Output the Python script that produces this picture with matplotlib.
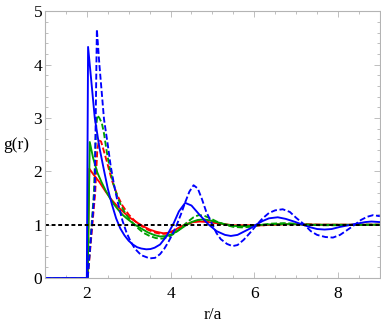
import matplotlib
matplotlib.use("Agg")
import matplotlib.pyplot as plt
from matplotlib.ticker import MultipleLocator

# Blue solid
r_bs = [1.0, 2.0, 2.03, 2.1, 2.19, 2.3, 2.41, 2.5, 2.6, 2.7, 2.8, 2.9, 3.0, 3.1, 3.2, 3.3, 3.42, 3.52,
        3.62, 3.75, 3.9, 4.07, 4.2, 4.35, 4.5, 4.7, 4.9, 5.1, 5.3, 5.44, 5.6, 5.75, 5.9, 6.04, 6.2, 6.35,
        6.56, 6.75, 6.95, 7.16, 7.35, 7.5, 7.68, 7.85, 8.05, 8.25, 8.45, 8.65, 8.8, 9.0]
g_bs = [0.0, 0.0, 4.33, 3.75, 3.0, 2.45, 2.02, 1.68, 1.38, 1.12, 0.93, 0.80, 0.70, 0.63, 0.58, 0.555, 0.54, 0.545,
        0.57, 0.63, 0.78, 1.02, 1.25, 1.41, 1.36, 1.18, 1.01, 0.88, 0.81, 0.79, 0.81, 0.87, 0.93, 1.0, 1.07, 1.12,
        1.14, 1.11, 1.06, 1.0, 0.95, 0.92, 0.91, 0.92, 0.96, 0.99, 1.02, 1.05, 1.06, 1.05]

# Blue dashed
r_bd = [1.0, 2.02, 2.19, 2.24, 2.3, 2.41, 2.5, 2.57, 2.65, 2.73, 2.85, 2.95, 3.05, 3.15, 3.3, 3.5, 3.63,
        3.75, 3.85, 3.95, 4.05, 4.15, 4.25, 4.35, 4.45, 4.55, 4.65, 4.75, 4.85, 5.0, 5.1, 5.2, 5.35, 5.48,
        5.6, 5.75, 5.9, 6.06, 6.2, 6.35, 6.5, 6.68, 6.85, 7.0, 7.2, 7.35, 7.5, 7.7, 7.88, 8.05, 8.2, 8.4,
        8.55, 8.7, 8.84, 9.0]
g_bd = [0.0, 0.0, 1.65, 4.66, 4.0, 2.98, 2.5, 2.1, 1.75, 1.45, 1.08, 0.85, 0.68, 0.55, 0.43, 0.37, 0.38,
        0.45, 0.55, 0.68, 0.83, 1.0, 1.2, 1.42, 1.62, 1.74, 1.68, 1.48, 1.25, 1.0, 0.84, 0.73, 0.64, 0.60,
        0.62, 0.72, 0.85, 1.0, 1.12, 1.22, 1.27, 1.29, 1.24, 1.13, 1.0, 0.88, 0.81, 0.77, 0.76, 0.81, 0.89, 1.0,
        1.09, 1.15, 1.18, 1.16]

# Green solid
r_gs = [1.0, 2.02, 2.07, 2.15, 2.25, 2.35, 2.45, 2.55, 2.65, 2.75, 2.85, 2.95, 3.05, 3.15, 3.3, 3.45,
        3.6, 3.75, 3.9, 4.05, 4.2, 4.35, 4.5, 4.65, 4.8, 4.95, 5.1, 5.3, 5.5, 5.7, 5.9, 6.2, 6.5, 6.9,
        7.4, 8.0, 9.0]
g_gs = [0.0, 0.0, 2.55, 2.25, 1.98, 1.8, 1.64, 1.5, 1.38, 1.28, 1.19, 1.12, 1.06, 1.0, 0.93, 0.86,
        0.81, 0.78, 0.79, 0.83, 0.9, 0.98, 1.05, 1.09, 1.10, 1.08, 1.05, 1.01, 0.98, 0.97, 0.98, 1.0, 1.01, 1.01,
        1.0, 1.0, 1.0]

# Green dashed
r_gd = [1.0, 2.02, 2.17, 2.22, 2.25, 2.3, 2.36, 2.41, 2.48, 2.55, 2.63, 2.73, 2.83, 2.93, 3.05, 3.2,
        3.35, 3.5, 3.65, 3.8, 3.95, 4.1, 4.25, 4.4, 4.55, 4.67, 4.8, 4.95, 5.1, 5.3, 5.5, 5.7, 5.9, 6.1,
        6.4, 6.7, 7.0, 7.3, 7.6, 8.0, 8.5, 9.0]
g_gd = [0.0, 0.0, 1.6, 2.8, 3.05, 3.0, 2.9, 2.71, 2.35, 2.05, 1.78, 1.52, 1.34, 1.2, 1.07, 0.95,
        0.85, 0.79, 0.75, 0.74, 0.77, 0.84, 0.94, 1.05, 1.14, 1.18, 1.17, 1.12, 1.06, 1.0, 0.96, 0.95, 0.96, 0.99,
        1.02, 1.03, 1.02, 1.0, 0.99, 0.99, 1.0, 1.0]

# Red solid
r_rs = [1.0, 2.02, 2.06, 2.15, 2.3, 2.45, 2.6, 2.75, 2.9, 3.05, 3.2, 3.35, 3.5, 3.65, 3.83, 3.95, 4.1,
        4.25, 4.4, 4.55, 4.7, 4.9, 5.1, 5.3, 5.5, 5.8, 6.2, 6.6, 7.0, 7.5, 9.0]
g_rs = [0.0, 0.0, 2.05, 1.95, 1.8, 1.62, 1.46, 1.33, 1.22, 1.12, 1.04, 0.97, 0.91, 0.87, 0.84, 0.85, 0.9,
        0.97, 1.02, 1.05, 1.06, 1.05, 1.03, 1.01, 0.99, 0.99, 0.99, 1.01, 1.01, 1.0, 1.0]

# Red dashed
r_rd = [1.0, 2.02, 2.2, 2.25, 2.29, 2.34, 2.4, 2.49, 2.6, 2.73, 2.85, 3.0, 3.15, 3.3, 3.45, 3.6, 3.75,
        3.9, 4.05, 4.2, 4.35, 4.5, 4.65, 4.8, 5.0, 5.2, 5.4, 5.7, 6.0, 6.4, 6.8, 7.2, 7.6, 9.0]
g_rd = [0.0, 0.0, 1.6, 2.4, 2.58, 2.56, 2.4, 2.15, 1.83, 1.55, 1.36, 1.19, 1.07, 0.98, 0.91, 0.86, 0.83,
        0.83, 0.87, 0.93, 0.99, 1.04, 1.07, 1.07, 1.05, 1.02, 0.99, 0.98, 0.98, 1.0, 1.01, 1.01, 1.0, 1.0]

ref_x = [1.0, 9.0]
ref_y = [1.0, 1.0]

xticks = [2, 4, 6, 8]
yticks = [0, 1, 2, 3, 4, 5]

plt.rcParams['font.family'] = ['Liberation Serif', 'DejaVu Serif']

fig = plt.figure(figsize=(3.81, 3.28), dpi=100)
ax = fig.add_axes([0.118, 0.152, 0.879, 0.814])

blue = '#0000ff'
green = '#00a000'
red = '#ff0000'
lw = 1.35
ds = (0, (3.2, 1.4))

ax.plot(r_rs, g_rs, color=red, lw=lw)
ax.plot(r_rd, g_rd, color=red, lw=lw, linestyle=ds)
ax.plot(r_gs, g_gs, color=green, lw=lw)
ax.plot(r_gd, g_gd, color=green, lw=lw, linestyle=ds)
ax.plot(r_bs, g_bs, color=blue, lw=lw)
ax.plot(r_bd, g_bd, color=blue, lw=lw, linestyle=ds)
ax.plot(ref_x, ref_y, color='black', lw=1.4, linestyle=(0, (2.0, 1.4)))

ax.set_xlim(1, 9)
ax.set_ylim(0, 5)
ax.set_xticks(xticks)
ax.set_yticks(yticks)
ax.xaxis.set_minor_locator(MultipleLocator(0.5))
ax.yaxis.set_minor_locator(MultipleLocator(0.2))

for s in ax.spines.values():
    s.set_color('#b4b4b4')
    s.set_linewidth(0.8)

ax.tick_params(which='both', direction='in', top=True, right=True, color='#b4b4b4', width=0.6)
ax.tick_params(which='major', length=4, labelsize=12.5)
ax.tick_params(which='minor', length=2)
ax.tick_params(axis='x', which='major', pad=6)
ax.tick_params(axis='y', which='major', pad=2)

ax.set_xlabel('r/a', fontsize=12.5, labelpad=3)
ax.set_ylabel('g(r)', fontsize=12.5, rotation=0, labelpad=0)
ax.yaxis.set_label_coords(-0.085, 0.5)
ax.yaxis.label.set_verticalalignment('center')

fig.savefig('out.png', dpi=100)
